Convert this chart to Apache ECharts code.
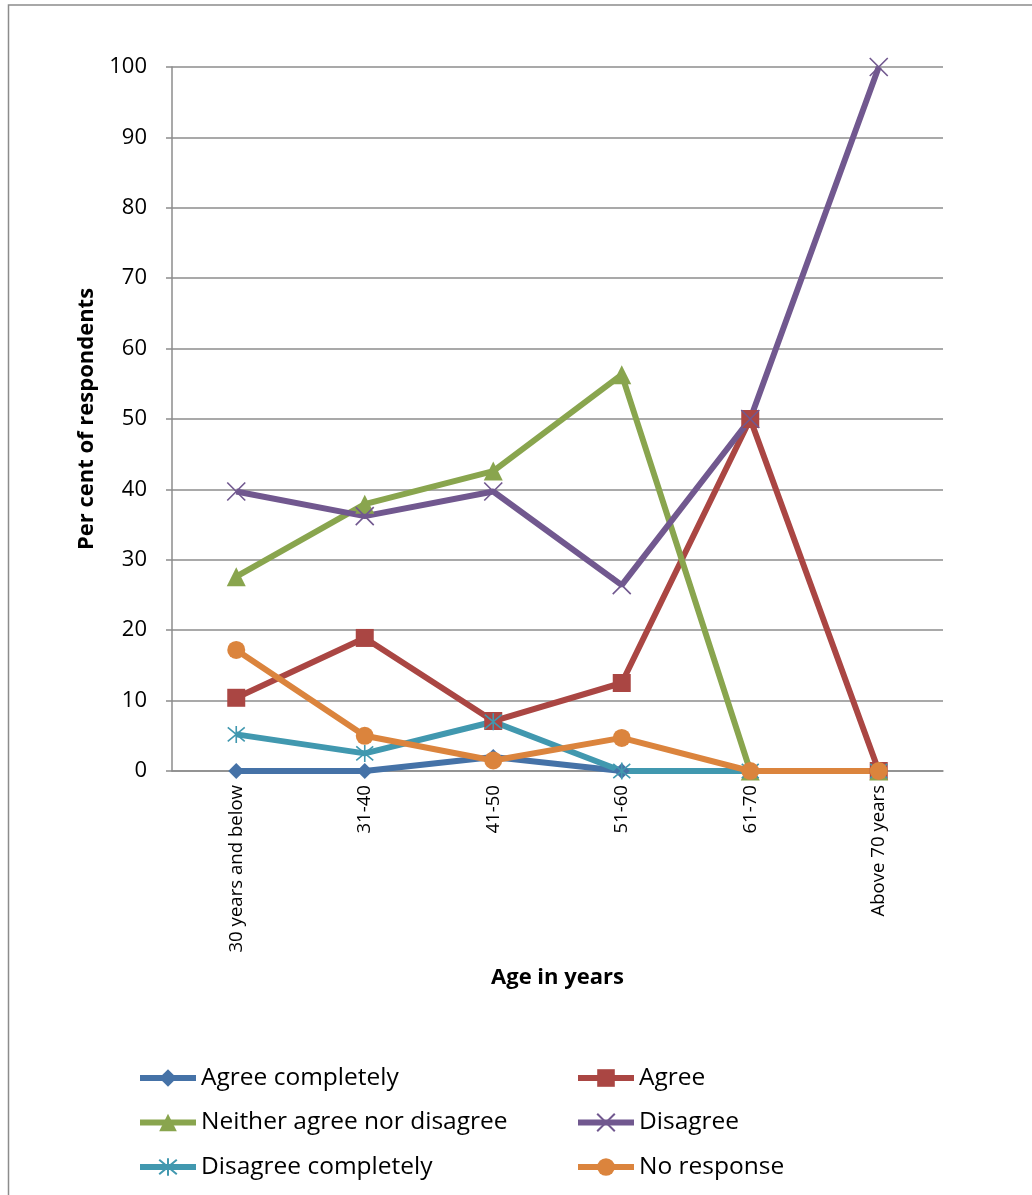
<!DOCTYPE html>
<html>
<head>
<meta charset="utf-8">
<script src="https://cdn.jsdelivr.net/npm/echarts@6/dist/echarts.min.js"></script>
<style>
  html, body { margin: 0; padding: 0; background: #fff; }
  #chart { width: 1032px; height: 1195px; }
</style>
</head>
<body>
<div id="chart"></div>
<script>
// Age groups on the category axis
const ageGroups = ['30 years and below', '31-40', '41-50', '51-60', '61-70', 'Above 70 years'];

// Per cent of respondents in each response group
const agreeCompletely = [0, 0, 2.0, 0, 0, 0];
const agree = [10.4, 18.9, 7.1, 12.5, 50, 0];
const neitherAgreeNorDisagree = [27.6, 37.9, 42.6, 56.3, 0, 0];
const disagree = [39.7, 36.2, 39.7, 26.4, 50, 100];
const disagreeCompletely = [5.2, 2.5, 7.0, 0, 0, 0];
const noResponse = [17.2, 5.0, 1.5, 4.7, 0, 0];

const yTicks = { min: 0, max: 100, interval: 10 };

const FONT = '"Open Sans", Lato, sans-serif';
const GREY = '#8c8c8c';

const crossPath = 'path://M0,0L10,10M10,0L0,10';
const starPath = 'path://M0,0L10,10M10,0L0,10M5,-1L5,11';

function lineSeries(name, data, color, symbol, size, stroked) {
  return {
    name: name,
    type: 'line',
    data: data,
    symbol: symbol,
    symbolSize: size,
    lineStyle: { color: color, width: 6 },
    itemStyle: stroked
      ? { color: 'rgba(0,0,0,0)', borderColor: color, borderWidth: 1.6 }
      : { color: color },
    emphasis: { disabled: true },
    animation: false
  };
}

const chart = echarts.init(document.getElementById('chart'), null, { renderer: 'canvas' });

const legendText = { fontFamily: FONT, fontSize: 24.5, lineHeight: 24, color: '#000' };
const legendCommon = {
  orient: 'vertical', top: 1060.5, itemGap: 19.5,
  itemWidth: 56, itemHeight: 22,
  lineStyle: { width: 6 },
  textStyle: legendText, selectedMode: false
};

chart.setOption({
  backgroundColor: '#fff',
  graphic: [{
    type: 'rect',
    shape: { x: 8.5, y: 5, width: 1100, height: 1300 },
    style: { fill: 'none', stroke: GREY, lineWidth: 1.5 },
    silent: true
  }],
  grid: { left: 172, right: 89, top: 67, bottom: 424, containLabel: false },
  legend: [
    Object.assign({ left: 132, data: ['Agree completely', 'Neither agree nor disagree', 'Disagree completely'] }, legendCommon),
    Object.assign({ left: 570, data: ['Agree', 'Disagree', 'No response'] }, legendCommon)
  ],
  xAxis: {
    type: 'category',
    data: ageGroups,
    boundaryGap: true,
    name: 'Age in years',
    nameLocation: 'middle',
    nameGap: 196,
    nameTextStyle: { fontFamily: FONT, fontSize: 22, fontWeight: 'bold', color: '#000' },
    axisLine: { show: true, lineStyle: { color: GREY, width: 1.5 } },
    axisTick: { show: false },
    axisLabel: { rotate: 90, margin: 14, fontFamily: FONT, fontSize: 18.6, color: '#000' },
    splitLine: { show: false }
  },
  yAxis: {
    type: 'value',
    min: yTicks.min, max: yTicks.max, interval: yTicks.interval,
    name: 'Per cent of respondents',
    nameLocation: 'middle',
    nameGap: 74,
    nameRotate: 90,
    nameTextStyle: { fontFamily: FONT, fontSize: 22, fontWeight: 'bold', color: '#000' },
    axisLine: { show: true, lineStyle: { color: GREY, width: 1.5 } },
    axisTick: { show: true, length: 6, lineStyle: { color: GREY, width: 1.5 } },
    axisLabel: { margin: 25, fontFamily: FONT, fontSize: 22, color: '#000' },
    splitLine: { show: true, lineStyle: { color: GREY, width: 1.5 } }
  },
  series: [
    lineSeries('Agree completely', agreeCompletely, '#4572A7', 'diamond', 16, false),
    lineSeries('Agree', agree, '#AA4643', 'rect', 18, false),
    lineSeries('Neither agree nor disagree', neitherAgreeNorDisagree, '#89A54E', 'triangle', 19, false),
    lineSeries('Disagree', disagree, '#71588F', crossPath, 18, true),
    lineSeries('Disagree completely', disagreeCompletely, '#4198AF', starPath, 17, true),
    lineSeries('No response', noResponse, '#DB843D', 'circle', 18, false)
  ]
});
</script>
</body>
</html>
